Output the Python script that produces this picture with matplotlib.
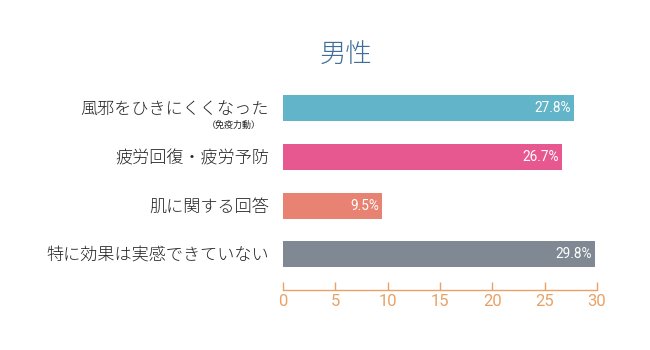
import matplotlib.pyplot as plt

plt.rcParams['font.family'] = ['Noto Sans CJK JP', 'DejaVu Sans']

# データ
categories = ['風邪をひきにくくなった', '疲労回復・疲労予防', '肌に関する回答', '特に効果は実感できていない']
values = [27.8, 26.7, 9.5, 29.8]
colors = ['#62B4C8', '#E85890', '#E88272', '#7F8893']
xticks = [0, 5, 10, 15, 20, 25, 30]

axis_color = '#E8A267'
num_font = ['Roboto', 'DejaVu Sans']

fig = plt.figure(figsize=(6.5, 3.5), dpi=100)
ax = fig.add_axes([0.4354, 0.1714, 0.4831, 0.5857])

pos = list(range(len(categories)))
ax.barh(pos, values, height=0.53, color=colors)

for p, v in zip(pos, values):
    ax.text(v - 0.3, p, f'{v}%', ha='right', va='center', color='white', fontsize=9.8,
            family=num_font)

ax.set_xlim(0, 30)
ax.set_ylim(3.73, -0.47)
ax.set_yticks(pos)
ax.set_yticklabels(categories, fontsize=12.3, color='#222222', fontweight='light')
ax.tick_params(axis='y', length=0, pad=10)

ax.set_xticks(xticks)
ax.set_xticklabels([str(t) for t in xticks], family=num_font)
ax.tick_params(axis='x', direction='in', length=6, width=1, color=axis_color,
               labelcolor=axis_color, labelsize=12, pad=3)

for s in ['top', 'right', 'left']:
    ax.spines[s].set_visible(False)
ax.spines['bottom'].set_color(axis_color)
ax.spines['bottom'].set_linewidth(1)

# 補足テキスト
ax.text(-2.1, 0.36, '（免疫力動）', ha='right', va='center', fontsize=6.5, color='#222222')

fig.text(0.532, 0.843, '男性', ha='center', va='center', fontsize=19, color='#3E6E99',
         fontweight='light')

fig.savefig('out.png', dpi=100, facecolor='white')
